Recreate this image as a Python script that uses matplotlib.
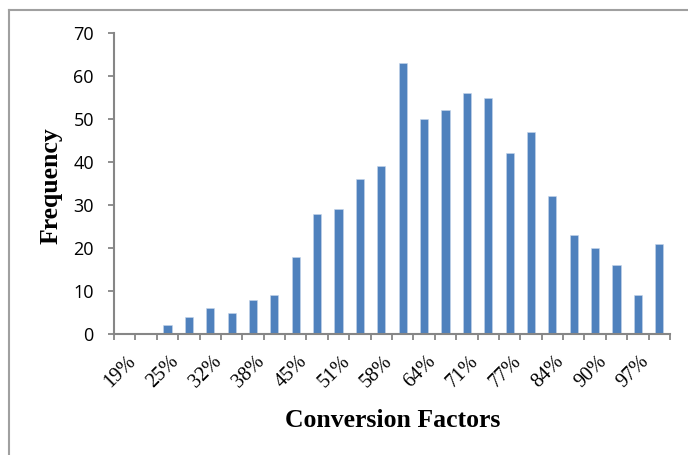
"""
Histogram of conversion factors (frequency per bin)
"""

import matplotlib.pyplot as plt
import matplotlib.transforms as mtransforms
import numpy as np

#---------------------------------------------------------------------------------------------------
# Data
#---------------------------------------------------------------------------------------------------

# Bin labels (every other bin is labelled on the axis)
bins = ['19%', '22%', '25%', '29%', '32%', '35%', '38%', '42%', '45%', '48%', '51%', '55%', '58%',
        '61%', '64%', '68%', '71%', '74%', '77%', '81%', '84%', '87%', '90%', '93%', '97%', '100%']

# Frequency in each bin
freq = [0, 0, 2, 4, 6, 5, 8, 9, 18, 28, 29, 36, 39,
        63, 50, 52, 56, 55, 42, 47, 32, 23, 20, 16, 9, 21]

yticks = [0, 10, 20, 30, 40, 50, 60, 70]

#---------------------------------------------------------------------------------------------------
# Make Plot
#---------------------------------------------------------------------------------------------------

bar_color = '#4F81BD'
axis_color = '#868686'

fig = plt.figure(figsize=(6.88, 4.55), dpi=100)
ax = fig.add_axes([114/688, 1 - 334/455, (670 - 114)/688, (334 - 33)/455])

x = np.arange(len(bins))
ax.bar(x, freq, width=0.38, color=bar_color, edgecolor='#C5D5EA', linewidth=0.4)

ax.set_xlim(-0.5, len(bins) - 0.5)
ax.set_ylim(0, 70)

# Tick marks at bin boundaries, labels at every other bin centre
ax.set_xticks(np.arange(len(bins) + 1) - 0.5)
ax.set_xticklabels([])
ax.set_xticks(x[::2], minor=True)
ax.set_xticklabels(bins[::2], minor=True, rotation=45, ha='right', va='top',
                   rotation_mode='anchor', family='Liberation Serif', fontsize=14.5)
ax.tick_params(axis='x', which='major', length=4.5, width=1.3, color=axis_color, direction='out')
ax.tick_params(axis='x', which='minor', length=0, pad=13)

# shift rotated labels a little to the right, like the original
shift = mtransforms.ScaledTranslation(2/100, 0, fig.dpi_scale_trans)
for lab in ax.get_xticklabels(minor=True):
    lab.set_transform(lab.get_transform() + shift)

ax.set_yticks(yticks)
ax.set_yticklabels([str(v) for v in yticks], family='Open Sans', fontsize=13)
ax.tick_params(axis='y', length=4.5, width=1.3, color=axis_color, pad=10)

for side in ['top', 'right']:
    ax.spines[side].set_visible(False)
for side in ['left', 'bottom']:
    ax.spines[side].set_color(axis_color)
    ax.spines[side].set_linewidth(1.5)

fig.text(51/688, 1 - 186/455, 'Frequency', rotation=90, ha='center', va='center',
         family='Liberation Serif', fontweight='bold', fontsize=18.5)
fig.text(393/688, 1 - 427/455, 'Conversion Factors', ha='center', va='baseline',
         family='Liberation Serif', fontweight='bold', fontsize=18.5)

# Chart area frame (only left and top edges are visible in the crop)
fig.add_artist(plt.Line2D([8.5/688, 8.5/688], [0, 1 - 9.5/455], color='#A0A0A0', lw=1.5))
fig.add_artist(plt.Line2D([8.5/688, 1], [1 - 9.5/455, 1 - 9.5/455], color='#A0A0A0', lw=1.5))

plt.savefig('out.png', dpi=100)
plt.close()
